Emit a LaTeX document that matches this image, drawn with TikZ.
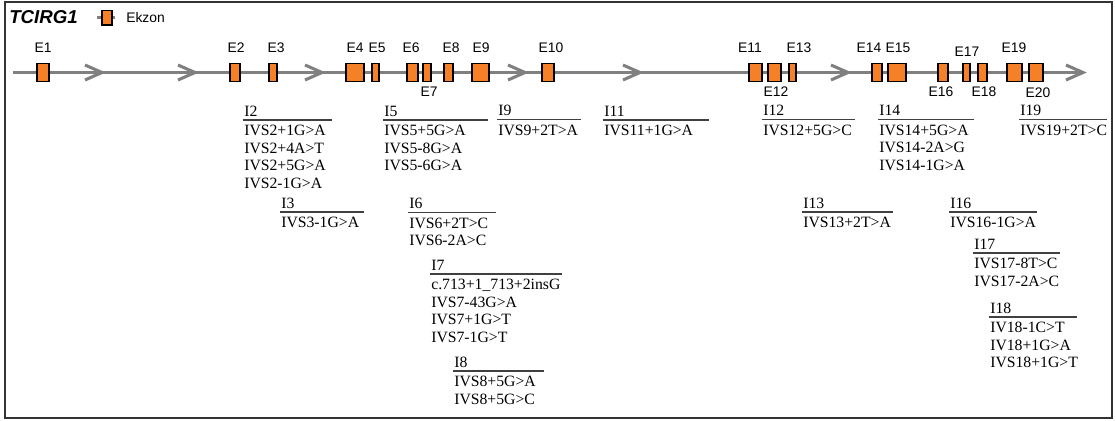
\documentclass[tikz,border=0pt]{standalone}
\usepackage{fontspec}
\setmainfont{Liberation Serif}
\newfontfamily\arialf{Liberation Sans}
\definecolor{exon}{RGB}{245,128,37}
\definecolor{bb}{RGB}{128,128,128}
\tikzset{
  exonbox/.style={draw=black,fill=exon,line width=1pt,minimum height=13.5pt,inner sep=0pt},
  backbone/.style={draw=bb,line width=2.6pt},
  chev/.style={draw=bb,line width=2.3pt,line join=miter},
  elab/.style={font=\arialf\fontsize{10.4}{12}\selectfont,inner sep=0pt,anchor=base},
  hdr/.style={font=\fontsize{11.8}{13}\selectfont,inner sep=0pt,anchor=base west},
  mut/.style={font=\fontsize{11.8}{13}\selectfont,inner sep=0pt,anchor=base west},
  rulel/.style={draw=black!75,line width=0.8pt},
}
\newcommand\exon[4]{% name, x1, x2, label
  \node[exonbox,minimum width={(#3-#2)*0.75pt}] (#1) at ({(#2+#3)/2},72.5) {};
}
\newcommand\mblock[6]{% id, x1, x2, rule y, header, lines
  \node[hdr] (#1h) at (#2+1,#4-4) {#5};
  \draw[rulel] (#2,#4) coordinate (#1a) -- (#3,#4) coordinate (#1b);
  \foreach \t [count=\k] in {#6} {
    \node[mut] (#1l\k) at (#2+1,{#4+15.5+17.5*(\k-1)}) {\t};
  }
}
\newcommand\chevron[1]{%
  \draw[chev] (#1-17,65) -- (#1,72.5) -- (#1-17,80);
}
\begin{document}
\begin{tikzpicture}[x=0.75pt,y=-0.75pt]
\useasboundingbox (0,0) rectangle (1115,421);
\draw[black!80,line width=1.5pt] (5,2) rectangle (1112,418);
% title and legend
\node[font=\arialf\bfseries\itshape\fontsize{14}{16}\selectfont,inner sep=0pt,anchor=base west] (title) at (9,23) {TCIRG1};
\coordinate (lgA) at (97,17.5);
\coordinate (lgB) at (115,17.5);
\draw[bb,line width=2pt] (lgA) -- (lgB);
\node[exonbox,minimum width=7.5pt,minimum height=11pt] (lgbox) at (107,17.5) {};
\node[elab,anchor=base west] (lgtext) at (126,22) {Ekzon};
% backbone
\coordinate (bs) at (12.5,72.5);
\coordinate (be) at (1080,72.5);
\draw[backbone] (bs) -- (be);
\chevron{102}\chevron{195}\chevron{322}\chevron{525}\chevron{640}\chevron{848}\chevron{1083}
% exons
\exon{E1}{37}{49}{}
\exon{E2}{230}{240}{}
\exon{E3}{269}{277}{}
\exon{E4}{346}{364}{}
\exon{E5}{372}{379}{}
\exon{E6}{407}{418}{}
\exon{E7}{423}{431}{}
\exon{E8}{444}{453}{}
\exon{E9}{472}{489}{}
\exon{E10}{542}{554}{}
\exon{E11}{749}{762}{}
\exon{E12}{768}{781}{}
\exon{E13}{789}{796}{}
\exon{E14}{872}{882}{}
\exon{E15}{888}{906}{}
\exon{E16}{938}{948}{}
\exon{E17}{963}{970}{}
\exon{E18}{978}{987}{}
\exon{E19}{1007}{1022}{}
\exon{E20}{1029}{1043}{}
% exon labels
\node[elab] (lE1) at (43,52) {E1};
\node[elab] (lE2) at (236,52) {E2};
\node[elab] (lE3) at (276,52) {E3};
\node[elab] (lE4) at (355,52) {E4};
\node[elab] (lE5) at (377,52) {E5};
\node[elab] (lE6) at (411,52) {E6};
\node[elab] (lE7) at (429,96.5) {E7};
\node[elab] (lE8) at (451,52) {E8};
\node[elab] (lE9) at (481,52) {E9};
\node[elab] (lE10) at (551,52) {E10};
\node[elab] (lE11) at (750,52) {E11};
\node[elab] (lE12) at (776,96.5) {E12};
\node[elab] (lE13) at (799,52) {E13};
\node[elab] (lE14) at (869,52) {E14};
\node[elab] (lE15) at (898,52) {E15};
\node[elab] (lE16) at (941,96.5) {E16};
\node[elab] (lE17) at (967,56.5) {E17};
\node[elab] (lE18) at (984,96.5) {E18};
\node[elab] (lE19) at (1014,52) {E19};
\node[elab] (lE20) at (1038,97) {E20};
% mutation blocks
\mblock{I2}{243}{332}{120}{I2}{IVS2+1G>A,IVS2+4A>T,IVS2+5G>A,IVS2-1G>A}
\mblock{I3}{280}{364}{212}{I3}{IVS3-1G>A}
\mblock{I5}{383}{488}{120}{I5}{IVS5+5G>A,IVS5-8G>A,IVS5-6G>A}
\mblock{I6}{408}{496}{212.5}{I6}{IVS6+2T>C,IVS6-2A>C}
\mblock{I7}{430}{562}{274}{I7}{c.713+1\_713+2insG,IVS7-43G>A,IVS7+1G>T,IVS7-1G>T}
\mblock{I8}{453}{544}{371}{I8}{IVS8+5G>A,IVS8+5G>C}
\mblock{I9}{497}{581}{119.5}{I9}{IVS9+2T>A}
\mblock{I11}{603}{709}{120}{I11}{IVS11+1G>A}
\mblock{I12}{762}{855}{119.5}{I12}{IVS12+5G>C}
\mblock{I14}{878}{974}{119.5}{I14}{IVS14+5G>A,IVS14-2A>G,IVS14-1G>A}
\mblock{I19}{1019}{1107}{119.5}{I19}{IVS19+2T>C}
\mblock{I13}{802}{893}{212}{I13}{IVS13+2T>A}
\mblock{I16}{949}{1037}{212}{I16}{IVS16-1G>A}
\mblock{I17}{973}{1060}{253}{I17}{IVS17-8T>C,IVS17-2A>C}
\mblock{I18}{989}{1077}{317}{I18}{IV18-1C>T,IV18+1G>A,IVS18+1G>T}
\end{tikzpicture}
\end{document}
